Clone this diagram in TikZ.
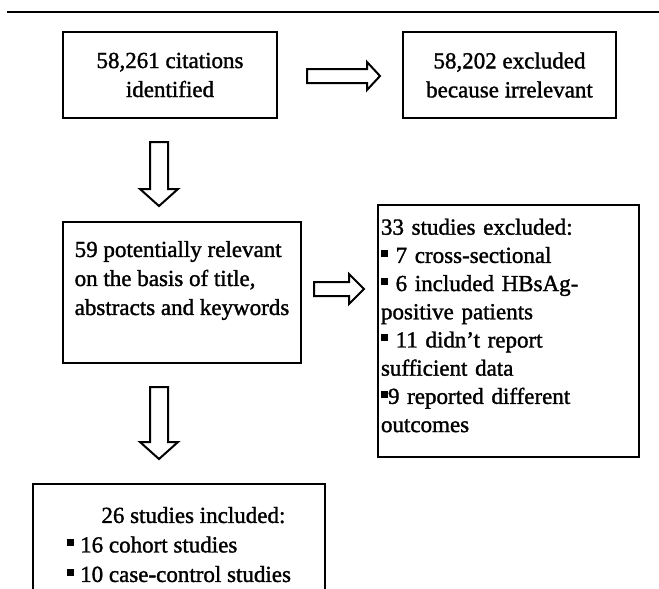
\documentclass[tikz,border=0pt]{standalone}
\usepackage{fontspec}
\setmainfont[FakeBold=1.4]{Liberation Serif}
\usetikzlibrary{calc}
\newcommand\sqb{\rule[6pt]{7pt}{7pt}}
% right-pointing hollow block arrow: #1 start, #2 tip, #3 shaft half, #4 head half, #5 head length
\newcommand\rblock[5]{\draw[blockarrow] let \p1=(#1), \p2=(#2) in
  (\x1,\y1+#3) -- (\x2-#5,\y1+#3) -- (\x2-#5,\y1+#4) -- (\x2,\y1) --
  (\x2-#5,\y1-#4) -- (\x2-#5,\y1-#3) -- (\x1,\y1-#3) -- cycle;}
% down-pointing hollow block arrow
\newcommand\dblock[5]{\draw[blockarrow] let \p1=(#1), \p2=(#2) in
  (\x1-#3,\y1) -- (\x1-#3,\y2+#5) -- (\x1-#4,\y2+#5) -- (\x1,\y2) --
  (\x1+#4,\y2+#5) -- (\x1+#3,\y2+#5) -- (\x1+#3,\y1) -- cycle;}
\begin{document}
\begin{tikzpicture}[x=1pt,y=-1pt,
  box/.style={draw, line width=2.4pt, inner ysep=0pt, inner xsep=0pt, font=\fontsize{23}{29}\selectfont},
  blockarrow/.style={draw, line width=2pt, line join=miter, fill=white},
  rulestyle/.style={line width=2.2pt}
]
\useasboundingbox (0,0) rectangle (659,589);
\clip (0,0) rectangle (659,589);
% top rule
\coordinate (rl) at (7,12);
\coordinate (rr) at (659,12);
\draw[rulestyle] (rl) -- (rr);
% boxes
\node[box, minimum width=214pt, minimum height=86pt, align=center] (b1) at (170,75)
  {58,261 citations\\identified};
\node[box, minimum width=213pt, minimum height=86pt, align=center] (b2) at (509.5,75)
  {58,202 excluded\\because irrelevant};
\node[box, minimum width=238pt, minimum height=141pt, align=left] (b3) at (182,292.5)
  {59 potentially relevant\\on the basis of title,\\abstracts and keywords\\\mbox{}};
\node[box, minimum width=261pt, minimum height=252pt, inner xsep=3pt, text width=255pt, align=left,
  font=\fontsize{23}{28.2}\selectfont] (b4) at (508.5,331)
  {33 studies excluded:\\\sqb\ 7 cross-sectional\\\sqb\ 6 included HBsAg-\\positive patients\\\sqb\ 11 didn’t report\\sufficient data\\\sqb9 reported different\\outcomes\\[-17pt]\mbox{}};
\node[box, anchor=north west, minimum width=292pt, minimum height=150pt, inner ysep=10pt,
  align=left, font=\fontsize{23}{29.5}\selectfont] (b5) at (32,483)
  {\hspace*{34pt}26 studies included:\\\sqb\ 16 cohort studies\\\sqb\ 10 case-control studies\\\mbox{}};
% connectors (hollow block arrows)
\coordinate (r1s) at (307,76);
\coordinate (r1e) at (380,76);
\rblock{r1s}{r1e}{7pt}{14pt}{13pt}
\coordinate (d1s) at (159,142);
\coordinate (d1e) at (159,206);
\dblock{d1s}{d1e}{9pt}{19pt}{17pt}
\coordinate (r2s) at (314,289);
\coordinate (r2e) at (364,289);
\rblock{r2s}{r2e}{7pt}{15pt}{15pt}
\coordinate (d2s) at (159,387);
\coordinate (d2e) at (159,459);
\dblock{d2s}{d2e}{9pt}{19pt}{17pt}
\end{tikzpicture}
\end{document}
